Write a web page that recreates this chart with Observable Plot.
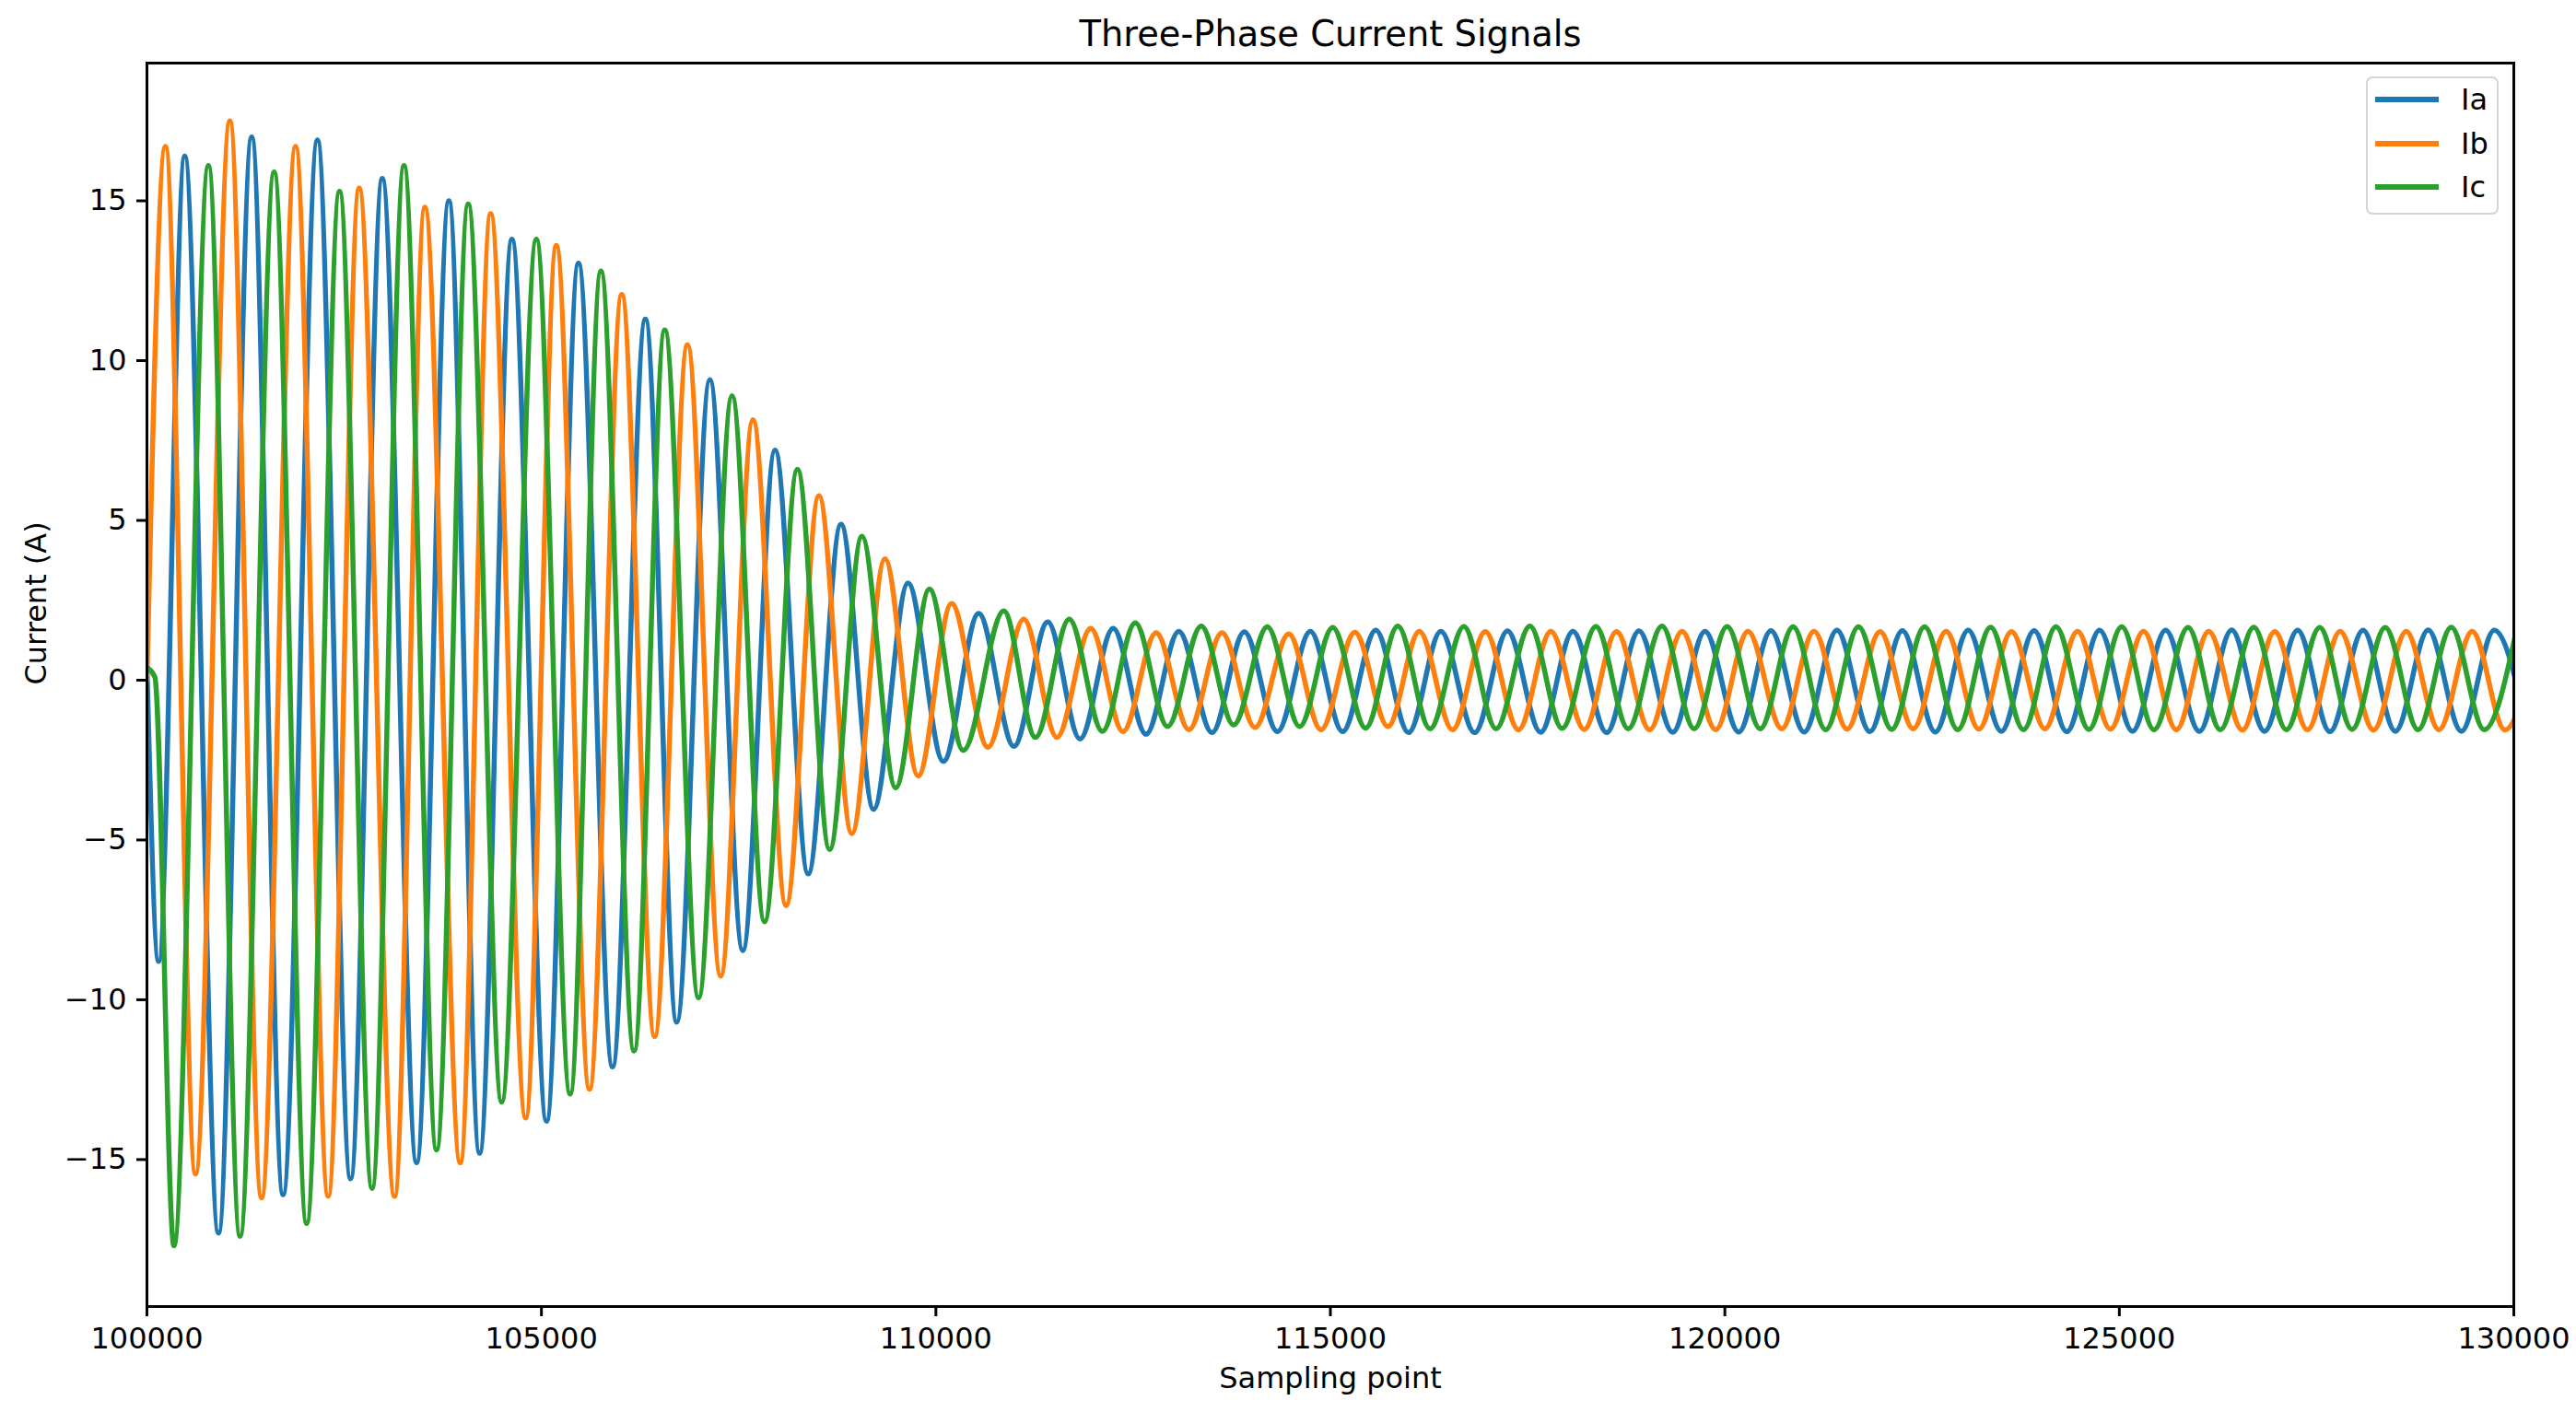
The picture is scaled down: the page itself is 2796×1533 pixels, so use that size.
<!DOCTYPE html>
<html><head><meta charset="utf-8">
<script src="https://cdn.jsdelivr.net/npm/d3@7"></script>
<script src="https://cdn.jsdelivr.net/npm/@observablehq/plot@0.6"></script>
<style>
html,body{margin:0;padding:0;background:#fff;overflow:hidden;}
#wrap{position:relative;width:2796px;height:1533px;font-family:"DejaVu Sans",sans-serif;}
#legend{position:absolute;left:2568px;top:83px;width:144px;height:150px;box-sizing:border-box;border:2px solid #d4d4d4;border-radius:7px;background:rgba(255,255,255,0.8);}
.row{position:absolute;left:0;height:40px;display:flex;align-items:center;}
.sw{margin-left:8px;width:69px;height:5.5px;}
.lb{margin-left:24px;font-size:32px;color:#000;line-height:1;}
</style></head>
<body><div id="wrap"></div>
<script>
// Series names and colours
const series = ["Ia", "Ib", "Ic"];
const colors = ["#1f77b4", "#ff7f0e", "#2ca02c"];

// Tick values
const xTicks = [100000, 105000, 110000, 115000, 120000, 125000, 130000];
const yTicks = [-15, -10, -5, 0, 5, 10, 15];

// Ia: sampling points of read extrema and their currents (A)
const iaX = [100000,100148,100479,100907,101328,101725,102161,102581,102983,103418,103827,104216,104626,105065,105469,105901,106318,106715,107135,107552,107961,108381,108797,109210,109646,110094,110542,110989,111418,111826,112247,112663,113079,113500,113909,114329,114746,115155,115575,115991,116400,116828,117245,117665,118074,118502,118911,119339,119748,120176,120584,121005,121421,121838,122250,122667,123084,123504,123920,124334,124750,125167,125587,126015,126424,126840,127260,127669,128090,128499,128915,129336,129752,130170];
const iaY = [0.4,-8.8,16.4,-17.3,17.0,-16.1,16.9,-15.6,15.7,-15.1,15.0,-14.8,13.8,-13.8,13.05,-12.1,11.3,-10.7,9.4,-8.46,7.2,-6.06,4.88,-4.04,3.04,-2.54,2.09,-2.07,1.82,-1.84,1.62,-1.69,1.53,-1.64,1.51,-1.61,1.53,-1.61,1.56,-1.64,1.53,-1.64,1.54,-1.63,1.53,-1.64,1.54,-1.63,1.53,-1.62,1.55,-1.62,1.56,-1.61,1.55,-1.62,1.56,-1.6,1.55,-1.61,1.56,-1.6,1.56,-1.6,1.57,-1.6,1.56,-1.61,1.56,-1.6,1.57,-1.6,1.56,-1.6];

// Ib
const ibX = [100000,100234,100615,101051,101452,101884,102297,102690,103138,103523,103971,104356,104800,105189,105609,106018,106435,106851,107272,107681,108101,108517,108934,109354,109775,110198,110659,111114,111534,111962,112371,112791,113208,113625,114045,114473,114881,115310,115730,116127,116548,116964,117385,117794,118218,118627,119047,119456,119884,120293,120721,121130,121550,121967,122387,122804,123220,123633,124057,124470,124886,125307,125723,126133,126560,126970,127385,127799,128222,128636,129051,129473,129888,130300];
const ibY = [0.0,16.7,-15.45,17.5,-16.2,16.7,-16.15,15.4,-16.15,14.8,-15.1,14.6,-13.7,13.6,-12.8,12.07,-11.15,10.5,-9.26,8.15,-7.05,5.77,-4.8,3.8,-3.0,2.4,-2.1,1.91,-1.79,1.62,-1.61,1.48,-1.55,1.48,-1.48,1.45,-1.55,1.5,-1.45,1.53,-1.55,1.52,-1.55,1.53,-1.54,1.52,-1.55,1.53,-1.55,1.53,-1.52,1.53,-1.53,1.52,-1.52,1.53,-1.53,1.52,-1.52,1.53,-1.53,1.53,-1.55,1.53,-1.56,1.52,-1.55,1.53,-1.56,1.53,-1.55,1.53,-1.56,1.53];

// Ic
const icX = [100000,100100,100342,100779,101180,101612,102024,102441,102853,103258,103671,104072,104496,104936,105364,105754,106174,106563,106992,107416,107828,108245,108653,109062,109490,109918,110347,110860,111262,111690,112111,112527,112936,113364,113773,114201,114610,115030,115447,115855,116263,116692,117100,117529,117937,118366,118775,119203,119611,120029,120448,120865,121278,121694,122115,122531,122952,123368,123785,124197,124614,125030,125439,125871,126280,126704,127117,127540,127950,128370,128787,129207,129624,130040];
const icY = [0.4,0.1,-17.7,16.1,-17.4,15.9,-17.0,15.3,-15.9,16.1,-14.7,14.9,-13.2,13.8,-12.95,12.8,-11.6,10.96,-9.94,8.9,-7.56,6.6,-5.3,4.5,-3.37,2.85,-2.2,2.17,-1.79,1.91,-1.6,1.79,-1.45,1.69,-1.4,1.67,-1.45,1.65,-1.5,1.69,-1.52,1.68,-1.52,1.69,-1.51,1.68,-1.52,1.69,-1.52,1.68,-1.52,1.67,-1.55,1.67,-1.54,1.67,-1.55,1.66,-1.55,1.67,-1.54,1.67,-1.55,1.65,-1.55,1.66,-1.55,1.65,-1.54,1.65,-1.55,1.66,-1.55,1.65];

const rows = [];
[[iaX, iaY], [ibX, ibY], [icX, icY]].forEach(([xs, ys], k) => {
  xs.forEach((x, i) => rows.push({series: series[k], x, y: ys[i]}));
});

const fmtY = d => d < 0 ? "\u2212" + Math.abs(d) : String(d);

const chart = Plot.plot({
  width: 2796,
  height: 1533,
  marginLeft: 159,
  marginRight: 68,
  marginTop: 68,
  marginBottom: 115,
  style: {fontFamily: '"DejaVu Sans", sans-serif', fontSize: "32px", background: "#fff", color: "#000", overflow: "visible"},
  x: {domain: [100000, 130000]},
  y: {domain: [-19.6, 19.31]},
  color: {domain: series, range: colors},
  marks: [
    Plot.line(rows, {x: "x", y: "y", z: "series", stroke: "series", curve: "monotone-x", strokeWidth: 5.5, clip: true}),
    Plot.frame({stroke: "#000", strokeWidth: 3}),
    Plot.axisX({ticks: xTicks, tickFormat: d => String(d), tickSize: 11, tickPadding: 12, strokeWidth: 3, fontSize: 32, label: null}),
    Plot.axisY({ticks: yTicks, tickFormat: fmtY, tickSize: 11, tickPadding: 11, strokeWidth: 3, fontSize: 32, label: null}),
    Plot.text(["Three-Phase Current Signals"], {text: d => d, frameAnchor: "top", dy: -19, lineAnchor: "bottom", fontSize: 38.4}),
    Plot.text(["Sampling point"], {text: d => d, frameAnchor: "bottom", dy: 66, lineAnchor: "top", fontSize: 32}),
    Plot.text(["Current (A)"], {text: d => d, frameAnchor: "left", dx: -120, rotate: -90, fontSize: 32})
  ]
});

const wrap = document.getElementById("wrap");
wrap.appendChild(chart);

// Legend
const legend = document.createElement("div");
legend.id = "legend";
const rowTops = [3, 51, 98];
series.forEach((s, i) => {
  const r = document.createElement("div");
  r.className = "row";
  r.style.top = rowTops[i] + "px";
  const sw = document.createElement("div");
  sw.className = "sw";
  sw.style.background = colors[i];
  const lb = document.createElement("div");
  lb.className = "lb";
  lb.textContent = s;
  r.appendChild(sw);
  r.appendChild(lb);
  legend.appendChild(r);
});
wrap.appendChild(legend);
</script>
</body></html>
